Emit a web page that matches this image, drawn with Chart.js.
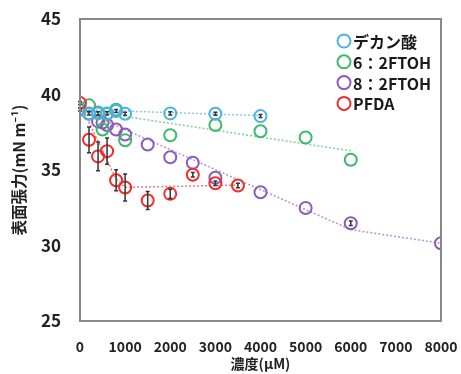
<!DOCTYPE html>
<html>
<head>
<meta charset="utf-8">
<script src="https://cdn.jsdelivr.net/npm/chart.js@4"></script>
<style>
  html, body { margin: 0; padding: 0; background: #fff; }
  #wrap { width: 461px; height: 374px; }
</style>
</head>
<body>
<div id="wrap"><canvas id="chart" width="461" height="374"></canvas></div>
<script>
// series labels
const labels = ["デカン酸", "6：2FTOH", "8：2FTOH", "PFDA"];
const colors = ["#4ab2e3", "#3fb86b", "#8c5bbd", "#f22b2b"];

// デカン酸
const decX = [0, 200, 400, 600, 800, 1000, 2000, 3000, 4000];
const decY = [39.0, 38.75, 38.75, 38.75, 38.9, 38.73, 38.75, 38.73, 38.57];
const decErr = [0.1, 0.1, 0.1, 0.1, 0.1, 0.1, 0.1, 0.1, 0.1];

// 6:2FTOH
const ftoh6X = [0, 200, 400, 500, 600, 800, 1000, 2000, 3000, 4000, 5000, 6000];
const ftoh6Y = [39.06, 39.28, 38.8, 37.68, 38.73, 38.99, 36.97, 37.3, 37.98, 37.57, 37.15, 35.68];

// 8:2FTOH
const ftoh8X = [0, 200, 400, 500, 600, 800, 1000, 1500, 2000, 2500, 3000, 4000, 5000, 6000, 8000];
const ftoh8Y = [39.0, 38.73, 38.22, 38.14, 37.98, 37.68, 37.35, 36.69, 35.84, 35.48, 34.49, 33.53, 32.48, 31.47, 30.15];
const ftoh8Err = [0, 0, 0, 0, 0, 0, 0, 0, 0, 0, 0, 0, 0, 0.15, 0];

// PFDA
const pfdaX = [0, 200, 400, 600, 800, 1000, 1500, 2000, 2500, 3000, 3500];
const pfdaY = [39.43, 37.0, 35.9, 36.25, 34.32, 33.84, 32.98, 33.42, 34.69, 34.12, 33.97];
const pfdaErr = [0.1, 0.85, 0.95, 0.87, 0.7, 0.9, 0.6, 0.3, 0.15, 0.15, 0.15];

// dotted trend lines
const decTrendX = [0, 4000];
const decTrendY = [39.0, 38.6];
const ftoh6TrendX = [0, 6000];
const ftoh6TrendY = [39.0, 36.27];
const ftoh8TrendX = [0, 6000, 8000];
const ftoh8TrendY = [39.0, 31.05, 30.15];
const pfdaTrendX = [0, 800, 1000, 3500];
const pfdaTrendY = [39.4, 34.4, 33.85, 34.0];

// axis ticks
const xTicks = [0, 1000, 2000, 3000, 4000, 5000, 6000, 7000, 8000];
const yTicks = [25, 30, 35, 40, 45];

const FONT = "'Noto Sans CJK JP', 'Noto Sans', sans-serif";

function pts(xs, ys) {
    return xs.map((x, i) => ({ x: x, y: ys[i] }));
}

function pointSet(i, xs, ys, errs) {
    return {
        label: labels[i],
        data: pts(xs, ys),
        errors: errs || null,
        showLine: false,
        pointRadius: 6,
        pointHoverRadius: 6,
        pointBorderWidth: 2,
        pointBackgroundColor: "rgba(255,255,255,0)",
        pointBorderColor: colors[i],
        borderColor: colors[i],
        seriesIndex: i
    };
}

function trendSet(i, xs, ys) {
    return {
        label: labels[i] + " trend",
        data: pts(xs, ys),
        showLine: true,
        pointRadius: 0,
        borderWidth: 1.5,
        borderDash: [2, 2],
        borderColor: colors[i] + "aa",
        fill: false
    };
}

// no extra room for the end labels, the layout padding decides the plot box
function noScalePadding(s) {
    s.paddingTop = 0;
    s.paddingBottom = 0;
    s.paddingLeft = 0;
    s.paddingRight = 0;
}

// error bars drawn through the scales
const errorBars = {
    id: "errorBars",
    afterDatasetsDraw(chart) {
        const ctx = chart.ctx;
        const xs = chart.scales.x, ys = chart.scales.y;
        ctx.save();
        ctx.strokeStyle = "#333";
        ctx.lineWidth = 1.5;
        chart.data.datasets.forEach(ds => {
            if (!ds.errors) return;
            ds.data.forEach((p, i) => {
                const e = ds.errors[i];
                if (!e) return;
                const px = xs.getPixelForValue(p.x);
                const top = ys.getPixelForValue(p.y + e);
                const bot = ys.getPixelForValue(p.y - e);
                ctx.beginPath();
                ctx.moveTo(px, top); ctx.lineTo(px, bot);
                ctx.moveTo(px - 2, top); ctx.lineTo(px + 2, top);
                ctx.moveTo(px - 2, bot); ctx.lineTo(px + 2, bot);
                ctx.stroke();
            });
        });
        ctx.restore();
    }
};

// frame round the plot and legend in the top right
const frameAndLegend = {
    id: "frameAndLegend",
    afterDraw(chart) {
        const ctx = chart.ctx;
        const a = chart.chartArea;
        ctx.save();
        ctx.strokeStyle = "#888";
        ctx.lineWidth = 2;
        ctx.strokeRect(a.left, a.top, a.right - a.left, a.bottom - a.top);

        const series = chart.data.datasets
            .filter(d => d.seriesIndex !== undefined)
            .sort((p, q) => p.seriesIndex - q.seriesIndex);
        ctx.font = "bold 16px " + FONT;
        ctx.textBaseline = "middle";
        series.forEach((ds, i) => {
            const y = 41 + i * 20.8;
            ctx.beginPath();
            ctx.strokeStyle = ds.pointBorderColor;
            ctx.lineWidth = 2;
            ctx.arc(344, y, 6.5, 0, Math.PI * 2);
            ctx.stroke();
            ctx.fillStyle = "#1a1a1a";
            ctx.fillText(ds.label, 353, y + 1);
        });
        ctx.restore();
    }
};

const ctx = document.getElementById("chart").getContext("2d");
const chart = new Chart(ctx, {
    type: "scatter",
    data: {
        datasets: [
            pointSet(3, pfdaX, pfdaY, pfdaErr),
            pointSet(0, decX, decY, decErr),
            pointSet(1, ftoh6X, ftoh6Y),
            pointSet(2, ftoh8X, ftoh8Y, ftoh8Err),
            trendSet(0, decTrendX, decTrendY),
            trendSet(1, ftoh6TrendX, ftoh6TrendY),
            trendSet(2, ftoh8TrendX, ftoh8TrendY),
            trendSet(3, pfdaTrendX, pfdaTrendY)
        ]
    },
    options: {
        responsive: false,
        animation: false,
        layout: { autoPadding: false, padding: { top: 19, right: 20, left: 0, bottom: 0 } },
        plugins: {
            legend: { display: false },
            tooltip: { enabled: false }
        },
        scales: {
            x: {
                type: "linear",
                min: 0,
                max: 8000,
                afterBuildTicks: s => { s.ticks = xTicks.map(v => ({ value: v })); },
                afterFit: s => { s.height = 53; noScalePadding(s); },
                grid: { display: false, drawTicks: false },
                border: { display: false },
                ticks: {
                    padding: 17,
                    color: "#222",
                    callback: v => String(v),
                    font: { family: FONT, size: 14, weight: "600" }
                },
                title: {
                    display: true,
                    text: "濃度(μM)",
                    color: "#222",
                    padding: { top: 0, bottom: 2 },
                    font: { family: FONT, size: 14, weight: "bold" }
                }
            },
            y: {
                type: "linear",
                min: 25,
                max: 45,
                afterBuildTicks: s => { s.ticks = yTicks.map(v => ({ value: v })); },
                afterFit: s => { s.width = 80; noScalePadding(s); },
                grid: { display: false, drawTicks: false },
                border: { display: false },
                ticks: {
                    padding: 19,
                    color: "#222",
                    font: { family: FONT, size: 17, weight: "bold" }
                },
                title: {
                    display: true,
                    text: "表面張力(mN m⁻¹)",
                    color: "#222",
                    padding: { top: 10, bottom: 0 },
                    font: { family: FONT, size: 15.5, weight: "bold" }
                }
            }
        }
    },
    plugins: [errorBars, frameAndLegend]
});
</script>
</body>
</html>
